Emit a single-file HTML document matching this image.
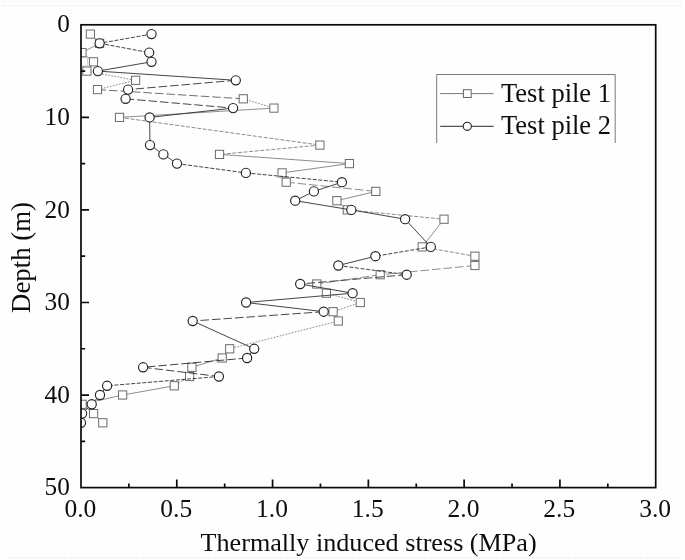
<!DOCTYPE html>
<html><head><meta charset="utf-8"><title>Thermally induced stress vs depth</title>
<style>html,body{margin:0;padding:0;background:#fefefe;}body{width:685px;height:560px;overflow:hidden;}svg{display:block;will-change:transform;}text{font-family:"Liberation Serif",serif;fill:#0d0d10;}</style></head><body>
<svg width="685" height="560" viewBox="0 0 685 560">
<rect x="0" y="0" width="685" height="560" fill="#fefefe"/>
<path d="M2 5.5H683" stroke="#efeff2" stroke-width="1.3" stroke-dasharray="1.6 1.6" fill="none"/>
<path d="M2 1.5H683" stroke="#f6f6f8" stroke-width="1.2" stroke-dasharray="1.6 1.6" fill="none"/>
<path d="M6 558H680" stroke="#f5f5f6" stroke-width="1.6" stroke-dasharray="7 2" fill="none"/>
<defs><clipPath id="cp"><rect x="81.0" y="24.8" width="574.7" height="462.8"/></clipPath></defs>
<g clip-path="url(#cp)">
<g fill="none" stroke="#707070" stroke-width="0.8">
<path d="M90.4 34.1L99.6 43.3"/>
<path d="M99.6 43.3L82.0 52.6"/>
<path d="M82.0 52.6L93.5 61.8"/>
<path d="M93.5 61.8L86.9 71.1"/>
<path d="M86.9 71.1L135.6 80.3" stroke-dasharray="1.7 1.4"/>
<path d="M135.6 80.3L97.5 89.6" stroke-dasharray="1.7 1.4"/>
<path d="M97.5 89.6L243.3 98.8" stroke-dasharray="8.5 3" stroke="#4a4a4a"/>
<path d="M243.3 98.8L273.9 108.1" stroke-dasharray="1.7 1.4"/>
<path d="M273.9 108.1L119.5 117.4"/>
<path d="M119.5 117.4L319.9 145.1" stroke-dasharray="4 1.6"/>
<path d="M319.9 145.1L219.5 154.4" stroke-dasharray="4 1.6"/>
<path d="M219.5 154.4L349.4 163.6"/>
<path d="M349.4 163.6L282.1 172.9"/>
<path d="M282.1 172.9L286.2 182.2"/>
<path d="M286.2 182.2L375.8 191.4" stroke-dasharray="8.5 3"/>
<path d="M375.8 191.4L336.9 200.7"/>
<path d="M336.9 200.7L347.3 209.9"/>
<path d="M347.3 209.9L444.0 219.2" stroke-dasharray="4 1.6"/>
<path d="M444.0 219.2L422.2 246.9"/>
<path d="M422.2 246.9L474.9 256.2" stroke-dasharray="4 1.6"/>
<path d="M474.9 256.2L474.9 265.5"/>
<path d="M474.9 265.5L380.2 274.7" stroke-dasharray="8.5 3"/>
<path d="M380.2 274.7L316.8 284.0" stroke-dasharray="8.5 3"/>
<path d="M316.8 284.0L326.4 293.2"/>
<path d="M326.4 293.2L360.3 302.5" stroke-dasharray="1.7 1.4"/>
<path d="M360.3 302.5L333.1 311.7" stroke-dasharray="1.7 1.4"/>
<path d="M333.1 311.7L338.3 321.0"/>
<path d="M338.3 321.0L229.7 348.8" stroke-dasharray="1.7 1.4"/>
<path d="M229.7 348.8L222.2 358.0"/>
<path d="M222.2 358.0L191.9 367.3"/>
<path d="M191.9 367.3L189.6 376.5"/>
<path d="M189.6 376.5L174.3 385.8" stroke-dasharray="4 1.6"/>
<path d="M174.3 385.8L122.6 395.0"/>
<path d="M122.6 395.0L82.1 404.3"/>
<path d="M82.1 404.3L93.6 413.6"/>
<path d="M93.6 413.6L102.8 422.8"/>
</g>
<rect x="79.2" y="57.7" width="8.2" height="8.2" fill="#fefefe" stroke="#c8c8c8" stroke-width="0.9"/>
<rect x="86.3" y="30.0" width="8.2" height="8.2" fill="#fefefe" stroke="#6c6c6c" stroke-width="1"/>
<rect x="95.5" y="39.2" width="8.2" height="8.2" fill="#fefefe" stroke="#6c6c6c" stroke-width="1"/>
<rect x="77.9" y="48.5" width="8.2" height="8.2" fill="#fefefe" stroke="#6c6c6c" stroke-width="1"/>
<rect x="89.4" y="57.7" width="8.2" height="8.2" fill="#fefefe" stroke="#6c6c6c" stroke-width="1"/>
<rect x="82.8" y="67.0" width="8.2" height="8.2" fill="#fefefe" stroke="#6c6c6c" stroke-width="1"/>
<rect x="131.5" y="76.2" width="8.2" height="8.2" fill="#fefefe" stroke="#6c6c6c" stroke-width="1"/>
<rect x="93.4" y="85.5" width="8.2" height="8.2" fill="#fefefe" stroke="#6c6c6c" stroke-width="1"/>
<rect x="239.2" y="94.7" width="8.2" height="8.2" fill="#fefefe" stroke="#6c6c6c" stroke-width="1"/>
<rect x="269.8" y="104.0" width="8.2" height="8.2" fill="#fefefe" stroke="#6c6c6c" stroke-width="1"/>
<rect x="115.4" y="113.3" width="8.2" height="8.2" fill="#fefefe" stroke="#6c6c6c" stroke-width="1"/>
<rect x="315.8" y="141.0" width="8.2" height="8.2" fill="#fefefe" stroke="#6c6c6c" stroke-width="1"/>
<rect x="215.4" y="150.3" width="8.2" height="8.2" fill="#fefefe" stroke="#6c6c6c" stroke-width="1"/>
<rect x="345.3" y="159.5" width="8.2" height="8.2" fill="#fefefe" stroke="#6c6c6c" stroke-width="1"/>
<rect x="278.0" y="168.8" width="8.2" height="8.2" fill="#fefefe" stroke="#6c6c6c" stroke-width="1"/>
<rect x="282.1" y="178.1" width="8.2" height="8.2" fill="#fefefe" stroke="#6c6c6c" stroke-width="1"/>
<rect x="371.7" y="187.3" width="8.2" height="8.2" fill="#fefefe" stroke="#6c6c6c" stroke-width="1"/>
<rect x="332.8" y="196.6" width="8.2" height="8.2" fill="#fefefe" stroke="#6c6c6c" stroke-width="1"/>
<rect x="343.2" y="205.8" width="8.2" height="8.2" fill="#fefefe" stroke="#6c6c6c" stroke-width="1"/>
<rect x="439.9" y="215.1" width="8.2" height="8.2" fill="#fefefe" stroke="#6c6c6c" stroke-width="1"/>
<rect x="418.1" y="242.8" width="8.2" height="8.2" fill="#fefefe" stroke="#6c6c6c" stroke-width="1"/>
<rect x="470.8" y="252.1" width="8.2" height="8.2" fill="#fefefe" stroke="#6c6c6c" stroke-width="1"/>
<rect x="470.8" y="261.4" width="8.2" height="8.2" fill="#fefefe" stroke="#6c6c6c" stroke-width="1"/>
<rect x="376.1" y="270.6" width="8.2" height="8.2" fill="#fefefe" stroke="#6c6c6c" stroke-width="1"/>
<rect x="312.7" y="279.9" width="8.2" height="8.2" fill="#fefefe" stroke="#6c6c6c" stroke-width="1"/>
<rect x="322.3" y="289.1" width="8.2" height="8.2" fill="#fefefe" stroke="#6c6c6c" stroke-width="1"/>
<rect x="356.2" y="298.4" width="8.2" height="8.2" fill="#fefefe" stroke="#6c6c6c" stroke-width="1"/>
<rect x="329.0" y="307.6" width="8.2" height="8.2" fill="#fefefe" stroke="#6c6c6c" stroke-width="1"/>
<rect x="334.2" y="316.9" width="8.2" height="8.2" fill="#fefefe" stroke="#6c6c6c" stroke-width="1"/>
<rect x="225.6" y="344.7" width="8.2" height="8.2" fill="#fefefe" stroke="#6c6c6c" stroke-width="1"/>
<rect x="218.1" y="353.9" width="8.2" height="8.2" fill="#fefefe" stroke="#6c6c6c" stroke-width="1"/>
<rect x="187.8" y="363.2" width="8.2" height="8.2" fill="#fefefe" stroke="#6c6c6c" stroke-width="1"/>
<rect x="185.5" y="372.4" width="8.2" height="8.2" fill="#fefefe" stroke="#6c6c6c" stroke-width="1"/>
<rect x="170.2" y="381.7" width="8.2" height="8.2" fill="#fefefe" stroke="#6c6c6c" stroke-width="1"/>
<rect x="118.5" y="390.9" width="8.2" height="8.2" fill="#fefefe" stroke="#6c6c6c" stroke-width="1"/>
<rect x="78.0" y="400.2" width="8.2" height="8.2" fill="#fefefe" stroke="#6c6c6c" stroke-width="1"/>
<rect x="89.5" y="409.5" width="8.2" height="8.2" fill="#fefefe" stroke="#6c6c6c" stroke-width="1"/>
<rect x="98.7" y="418.7" width="8.2" height="8.2" fill="#fefefe" stroke="#6c6c6c" stroke-width="1"/>
<g fill="none" stroke="#303030" stroke-width="0.9">
<path d="M151.5 34.1L99.6 43.3" stroke-dasharray="4 1.6"/>
<path d="M99.6 43.3L149.2 52.6" stroke-dasharray="4 1.6"/>
<path d="M149.2 52.6L151.5 61.8"/>
<path d="M151.5 61.8L97.9 71.1"/>
<path d="M97.9 71.1L235.8 80.3"/>
<path d="M235.8 80.3L128.1 89.6" stroke-dasharray="8.5 3"/>
<path d="M128.1 89.6L125.6 98.8"/>
<path d="M125.6 98.8L233.1 108.1" stroke-dasharray="8.5 3"/>
<path d="M233.1 108.1L149.6 117.4"/>
<path d="M149.6 117.4L150.0 145.1"/>
<path d="M150.0 145.1L163.4 154.4"/>
<path d="M163.4 154.4L177.0 163.6"/>
<path d="M177.0 163.6L245.9 172.9" stroke-dasharray="4 1.6"/>
<path d="M245.9 172.9L341.9 182.2" stroke-dasharray="4 1.6"/>
<path d="M341.9 182.2L313.9 191.4"/>
<path d="M313.9 191.4L295.2 200.7"/>
<path d="M295.2 200.7L351.3 209.9"/>
<path d="M351.3 209.9L405.1 219.2"/>
<path d="M405.1 219.2L430.8 246.9"/>
<path d="M430.8 246.9L375.4 256.2" stroke-dasharray="4 1.6"/>
<path d="M375.4 256.2L338.3 265.5"/>
<path d="M338.3 265.5L406.7 274.7" stroke-dasharray="4 1.6"/>
<path d="M406.7 274.7L300.2 284.0" stroke-dasharray="8.5 3"/>
<path d="M300.2 284.0L352.6 293.2"/>
<path d="M352.6 293.2L246.1 302.5"/>
<path d="M246.1 302.5L323.7 311.7"/>
<path d="M323.7 311.7L192.7 321.0" stroke-dasharray="8.5 3"/>
<path d="M192.7 321.0L254.2 348.8"/>
<path d="M254.2 348.8L247.1 358.0"/>
<path d="M247.1 358.0L143.1 367.3" stroke-dasharray="8.5 3"/>
<path d="M143.1 367.3L218.9 376.5" stroke-dasharray="8.5 3"/>
<path d="M218.9 376.5L107.1 385.8" stroke-dasharray="4 1.6"/>
<path d="M107.1 385.8L100.0 395.0"/>
<path d="M100.0 395.0L91.7 404.3"/>
<path d="M91.7 404.3L82.1 413.6"/>
<path d="M82.1 413.6L81.0 422.8"/>
</g>
<circle cx="151.5" cy="34.1" r="4.6" fill="#fefefe" stroke="#222" stroke-width="1.15"/>
<circle cx="99.6" cy="43.3" r="4.6" fill="#fefefe" stroke="#222" stroke-width="1.15"/>
<circle cx="149.2" cy="52.6" r="4.6" fill="#fefefe" stroke="#222" stroke-width="1.15"/>
<circle cx="151.5" cy="61.8" r="4.6" fill="#fefefe" stroke="#222" stroke-width="1.15"/>
<circle cx="97.9" cy="71.1" r="4.6" fill="#fefefe" stroke="#222" stroke-width="1.15"/>
<circle cx="235.8" cy="80.3" r="4.6" fill="#fefefe" stroke="#222" stroke-width="1.15"/>
<circle cx="128.1" cy="89.6" r="4.6" fill="#fefefe" stroke="#222" stroke-width="1.15"/>
<circle cx="125.6" cy="98.8" r="4.6" fill="#fefefe" stroke="#222" stroke-width="1.15"/>
<circle cx="233.1" cy="108.1" r="4.6" fill="#fefefe" stroke="#222" stroke-width="1.15"/>
<circle cx="149.6" cy="117.4" r="4.6" fill="#fefefe" stroke="#222" stroke-width="1.15"/>
<circle cx="150.0" cy="145.1" r="4.6" fill="#fefefe" stroke="#222" stroke-width="1.15"/>
<circle cx="163.4" cy="154.4" r="4.6" fill="#fefefe" stroke="#222" stroke-width="1.15"/>
<circle cx="177.0" cy="163.6" r="4.6" fill="#fefefe" stroke="#222" stroke-width="1.15"/>
<circle cx="245.9" cy="172.9" r="4.6" fill="#fefefe" stroke="#222" stroke-width="1.15"/>
<circle cx="341.9" cy="182.2" r="4.6" fill="#fefefe" stroke="#222" stroke-width="1.15"/>
<circle cx="313.9" cy="191.4" r="4.6" fill="#fefefe" stroke="#222" stroke-width="1.15"/>
<circle cx="295.2" cy="200.7" r="4.6" fill="#fefefe" stroke="#222" stroke-width="1.15"/>
<circle cx="351.3" cy="209.9" r="4.6" fill="#fefefe" stroke="#222" stroke-width="1.15"/>
<circle cx="405.1" cy="219.2" r="4.6" fill="#fefefe" stroke="#222" stroke-width="1.15"/>
<circle cx="430.8" cy="246.9" r="4.6" fill="#fefefe" stroke="#222" stroke-width="1.15"/>
<circle cx="375.4" cy="256.2" r="4.6" fill="#fefefe" stroke="#222" stroke-width="1.15"/>
<circle cx="338.3" cy="265.5" r="4.6" fill="#fefefe" stroke="#222" stroke-width="1.15"/>
<circle cx="406.7" cy="274.7" r="4.6" fill="#fefefe" stroke="#222" stroke-width="1.15"/>
<circle cx="300.2" cy="284.0" r="4.6" fill="#fefefe" stroke="#222" stroke-width="1.15"/>
<circle cx="352.6" cy="293.2" r="4.6" fill="#fefefe" stroke="#222" stroke-width="1.15"/>
<circle cx="246.1" cy="302.5" r="4.6" fill="#fefefe" stroke="#222" stroke-width="1.15"/>
<circle cx="323.7" cy="311.7" r="4.6" fill="#fefefe" stroke="#222" stroke-width="1.15"/>
<circle cx="192.7" cy="321.0" r="4.6" fill="#fefefe" stroke="#222" stroke-width="1.15"/>
<circle cx="254.2" cy="348.8" r="4.6" fill="#fefefe" stroke="#222" stroke-width="1.15"/>
<circle cx="247.1" cy="358.0" r="4.6" fill="#fefefe" stroke="#222" stroke-width="1.15"/>
<circle cx="143.1" cy="367.3" r="4.6" fill="#fefefe" stroke="#222" stroke-width="1.15"/>
<circle cx="218.9" cy="376.5" r="4.6" fill="#fefefe" stroke="#222" stroke-width="1.15"/>
<circle cx="107.1" cy="385.8" r="4.6" fill="#fefefe" stroke="#222" stroke-width="1.15"/>
<circle cx="100.0" cy="395.0" r="4.6" fill="#fefefe" stroke="#222" stroke-width="1.15"/>
<circle cx="91.7" cy="404.3" r="4.6" fill="#fefefe" stroke="#222" stroke-width="1.15"/>
<circle cx="82.1" cy="413.6" r="4.6" fill="#fefefe" stroke="#222" stroke-width="1.15"/>
<circle cx="81.0" cy="422.8" r="4.6" fill="#fefefe" stroke="#222" stroke-width="1.15"/>
</g>
<path d="M81.0 71.08h4.2 M81.0 117.36h8.0 M81.0 163.64h4.2 M81.0 209.92h8.0 M81.0 256.20h4.2 M81.0 302.48h8.0 M81.0 348.76h4.2 M81.0 395.04h8.0 M81.0 441.32h4.2 M128.89 487.6v-4.2 M176.78 487.6v-8.0 M224.68 487.6v-4.2 M272.57 487.6v-8.0 M320.46 487.6v-4.2 M368.35 487.6v-8.0 M416.24 487.6v-4.2 M464.13 487.6v-8.0 M512.03 487.6v-4.2 M559.92 487.6v-8.0 M607.81 487.6v-4.2" stroke="#0a0a0a" stroke-width="1.7" fill="none"/>
<rect x="81.0" y="24.8" width="574.7" height="462.8" fill="none" stroke="#0a0a0a" stroke-width="1.7"/>
<text x="69.8" y="32.4" font-size="25.3" text-anchor="end">0</text>
<text x="69.8" y="125.0" font-size="25.3" text-anchor="end">10</text>
<text x="69.8" y="217.5" font-size="25.3" text-anchor="end">20</text>
<text x="69.8" y="310.1" font-size="25.3" text-anchor="end">30</text>
<text x="69.8" y="402.6" font-size="25.3" text-anchor="end">40</text>
<text x="69.8" y="495.2" font-size="25.3" text-anchor="end">50</text>
<text x="80.4" y="517.3" font-size="25.5" text-anchor="middle">0.0</text>
<text x="176.2" y="517.3" font-size="25.5" text-anchor="middle">0.5</text>
<text x="272.0" y="517.3" font-size="25.5" text-anchor="middle">1.0</text>
<text x="367.8" y="517.3" font-size="25.5" text-anchor="middle">1.5</text>
<text x="463.5" y="517.3" font-size="25.5" text-anchor="middle">2.0</text>
<text x="559.3" y="517.3" font-size="25.5" text-anchor="middle">2.5</text>
<text x="655.1" y="517.3" font-size="25.5" text-anchor="middle">3.0</text>
<text x="368.6" y="550.5" font-size="26.15" text-anchor="middle">Thermally induced stress (MPa)</text>
<text transform="translate(30.1 257.5) rotate(-90) scale(1 1.04)" font-size="26.8" text-anchor="middle">Depth (m)</text>
<path d="M436.7 143V74.5H615.2V143" fill="none" stroke="#7a7a7a" stroke-width="1"/>
<path d="M440.2 93.6H493.6" stroke="#6a6a6a" stroke-width="0.9"/>
<rect x="463.40000000000003" y="89.69999999999999" width="7.8" height="7.8" fill="#fefefe" stroke="#666" stroke-width="1"/>
<path d="M440.2 126.3H493.6" stroke="#2a2a2a" stroke-width="1"/>
<circle cx="467.3" cy="126.3" r="4.1" fill="#fefefe" stroke="#222" stroke-width="1.1"/>
<text x="501" y="101.5" font-size="26.5">Test pile 1</text>
<text x="501" y="134.2" font-size="26.5">Test pile 2</text>
</svg></body></html>
